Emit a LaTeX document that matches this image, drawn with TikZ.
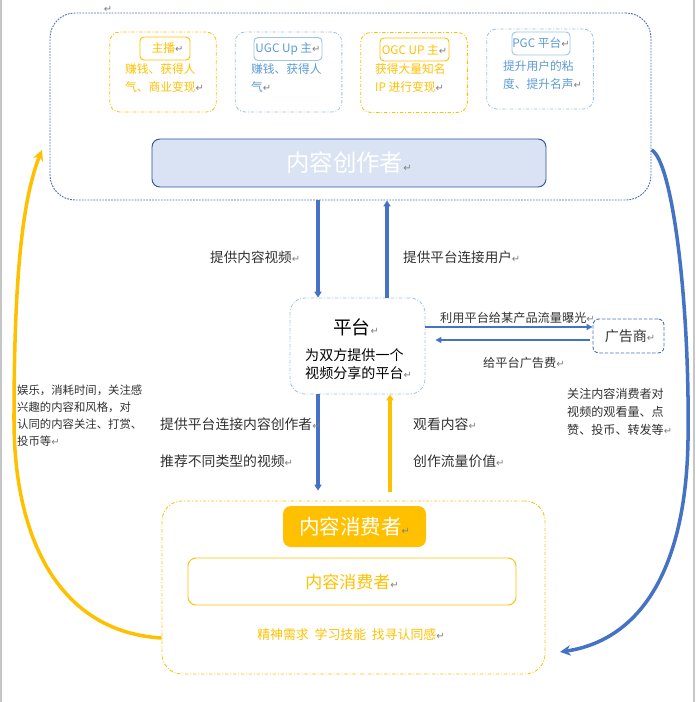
\documentclass[tikz,border=0pt]{standalone}
\usepackage{fontspec}
\setmainfont{Noto Sans CJK SC}
\newfontfamily\arrowfont{DejaVu Sans}
\usepackage{xcolor}
\usepackage{tikz}
\usetikzlibrary{arrows.meta}
\definecolor{cyellow}{HTML}{FFC000}
\definecolor{cblue}{HTML}{4472C4}
\definecolor{lblue}{HTML}{9DC3E6}
\definecolor{tblue}{HTML}{5B9BD5}
\definecolor{navy}{HTML}{2F5597}
\definecolor{pale}{HTML}{DAE3F3}
\definecolor{ink}{HTML}{303030}
\newcommand{\ret}{{\arrowfont\color{gray}\fontsize{8.5}{8.5}\selectfont ↵}}
\newcommand{\fs}[2]{\fontsize{#1}{#2}\selectfont}
\tikzset{every node/.append style={font=\fs{10}{16}, inner sep=0pt, text=ink}}
\tikzset{
  dashdot/.style={dash pattern=on 3pt off 1.5pt on 0.8pt off 1.5pt},
  rolebox/.style={dashdot, line width=0.7pt, rounded corners=0.3cm, minimum width=3.2cm, minimum height=2.4cm},
  tagbox/.style={draw, line width=0.8pt, rounded corners=0.12cm, minimum height=0.69cm},
  flow/.style={line width=3.4pt, -{Triangle[length=5pt, width=6pt]}},
  thinflow/.style={cblue, line width=1.2pt, -{Triangle[length=5pt, width=5pt]}},
  loopflow/.style={line width=3pt, -{Stealth[length=9pt, width=9pt]}}
}

\begin{document}
\begin{tikzpicture}[x=0.03cm, y=-0.03cm]
    \useasboundingbox (0,0) rectangle (695,702);
    \draw[gray!45, line width=1pt] (1,0) -- (1,702) (694,0) -- (694,702);
    \node at (108,9) {\ret};

    \node[draw=cblue, line width=0.8pt, dash pattern=on 1.5pt off 1pt, rounded corners=0.75cm, minimum width=18.03cm, minimum height=5.61cm] (cre) at (350.5,106.5) {};
    \node[rolebox, draw=cyellow] (s1) at (163,72) {};
    \node[rolebox, draw=lblue] (s2) at (288.5,72) {};
    \node[rolebox, draw=cyellow] (s3) at (414,72.5) {};
    \node[rolebox, draw=lblue] (s4) at (540,69) {};
    \node[tagbox, draw=cyellow, minimum width=1.5cm, text=cyellow] (t1) at (165,48.5) {\ \ 主播\ret};
    \node[tagbox, draw=lblue, minimum width=2.04cm, text=tblue] (t2) at (288,49) {UGC Up 主\ret};
    \node[tagbox, draw=cyellow, minimum width=2.07cm, text=cyellow] (t3) at (414.5,49.5) {OGC UP 主\ret};
    \node[tagbox, draw=lblue, minimum width=1.74cm, text=tblue] (t4) at (541,43.5) {PGC 平台\ret};
    \node[anchor=west, align=left, text=cyellow] at (125,78) {赚钱、获得人\\气、商业变现\ret};
    \node[anchor=west, align=left, text=tblue] at (251,78) {赚钱、获得人\\气\ret};
    \node[anchor=west, align=left, text=cyellow] at (375,78) {获得大量知名\\IP 进行变现\ret};
    \node[anchor=west, align=left, text=tblue] at (503,75) {提升用户的粘\\度、提升名声\ret};
    \node[draw=navy, fill=pale, line width=0.8pt, rounded corners=0.24cm, minimum width=11.82cm, minimum height=1.44cm, text=white, font=\fs{20}{24}] (maker) at (349,163) {内容创作者\ret};

    \node[draw=lblue, dashdot, line width=0.7pt, rounded corners=0.45cm, minimum width=4.05cm, minimum height=2.88cm] (plat) at (357.5,346) {};
    \node[font=\fs{16}{18}, text=black] at (356,327) {平台\ret};
    \node[anchor=west, align=left, font=\fs{12}{15.3}, text=black] at (305,364) {为双方提供一个\\视频分享的平台\ret};
    \node[draw=cblue, line width=0.8pt, dash pattern=on 3pt off 1.5pt, rounded corners=0.18cm, minimum width=2.13cm, minimum height=1.02cm, font=\fs{12}{14}] (ad) at (628.5,336) {\ 广告商\ret};

    \node[draw=cyellow, dashdot, line width=0.7pt, rounded corners=0.6cm, minimum width=11.49cm, minimum height=5.19cm] (cons) at (353.5,587.5) {};
    \node[fill=cyellow, rounded corners=0.24cm, minimum width=4.29cm, minimum height=1.23cm, text=white, font=\fs{17.5}{20}] (ctag) at (354.5,526.5) {内容消费者\ret};
    \node[draw=cyellow, line width=0.8pt, rounded corners=0.24cm, minimum width=9.84cm, minimum height=1.41cm, text=cyellow, font=\fs{14.5}{17}] (cin) at (352,581.5) {内容消费者\ret};
    \node[text=cyellow, font=\fs{11}{14}] at (351,635) {精神需求 \ 学习技能 \ 找寻认同感\ret};

    \coordinate (d1) at (318,0);
    \coordinate (d2) at (387,0);
    \coordinate (d3) at (390,0);
    \coordinate (a1) at (0,327);
    \coordinate (a2) at (0,340);
    \draw[flow, cblue] (cre.south -| d1) -- (plat.north -| d1);
    \draw[flow, cblue] (plat.north -| d2) -- (cre.south -| d2);
    \draw[flow, cblue, shorten >=0.3cm] (plat.south -| d1) -- (cons.north -| d1);
    \draw[flow, cyellow, shorten <=0.27cm] (cons.north -| d3) -- (plat.south -| d3);
    \draw[thinflow] (plat.east |- a1) -- (ad.west |- a1);
    \draw[thinflow, shorten >=0.3cm, shorten <=0.09cm] (ad.west |- a2) -- (plat.east |- a2);

    \node[anchor=west, font=\fs{11.6}{14}] at (210,257) {提供内容视频\ret};
    \node[anchor=west, font=\fs{11.6}{14}] at (403,257) {提供平台连接用户\ret};
    \node[anchor=west, font=\fs{10.4}{14}] at (440,318) {利用平台给某产品流量曝光\ret};
    \node[anchor=west, font=\fs{10.4}{14}] at (483,363) {给平台广告费\ret};
    \node[anchor=west, font=\fs{11.8}{14}] at (160,424) {提供平台连接内容创作者\ret};
    \node[anchor=west, font=\fs{11.8}{14}] at (160,461) {推荐不同类型的视频\ret};
    \node[anchor=west, font=\fs{11.8}{14}] at (413,424) {观看内容\ret};
    \node[anchor=west, font=\fs{11.8}{14}] at (413,461) {创作流量价值\ret};
    \node[anchor=west, align=left, font=\fs{9.7}{14.5}] at (17,415.5) {娱乐，消耗时间，关注感\\兴趣的内容和风格，对\\认同的内容关注、打赏、\\投币等\ret};
    \node[anchor=west, align=left, font=\fs{10.3}{15.3}] at (567,412) {关注内容消费者对\\视频的观看量、点\\赞、投币、转发等\ret};

    \coordinate (l1) at (0,638);
    \coordinate (l2) at (42,150);
    \coordinate (r1) at (0,150);
    \coordinate (r2) at (560,652);
    \draw[loopflow, cyellow] (cons.west |- l1) .. controls (60,632) and (14,540) .. (14,420) .. controls (14,280) and (22,200) .. (l2);
    \draw[loopflow, cblue] (cre.east |- r1) .. controls (672,160) and (690,300) .. (688,440) .. controls (686,570) and (640,640) .. (r2);
\end{tikzpicture}
\end{document}
